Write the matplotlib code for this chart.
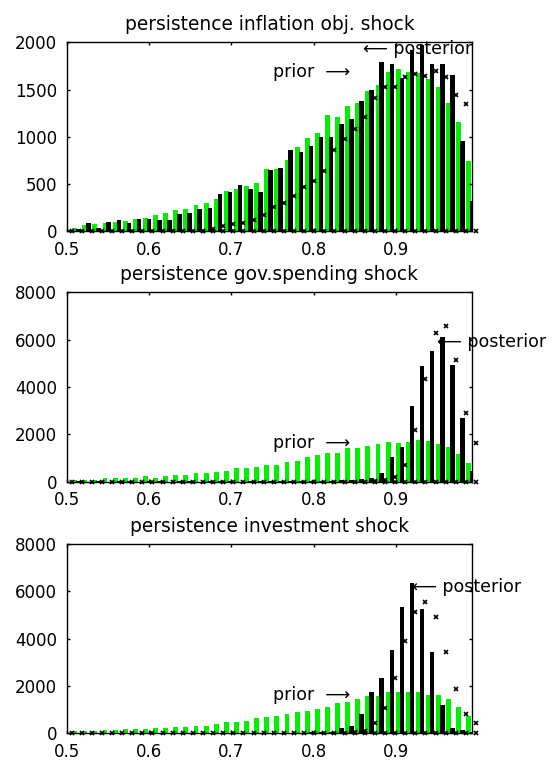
import numpy as np
import matplotlib
matplotlib.use('Agg')
import matplotlib.pyplot as plt

# histogram bin centres (41 bins, same grid for all three panels)
centres = np.linspace(0.4975, 0.4975 + 40 * 0.01227, 41)

titles = ['persistence inflation obj. shock',
          'persistence gov.spending shock',
          'persistence investment shock']

# --- inflation objective shock
prior_infl = [160, 42, 70, 79, 90, 100, 115, 128, 139, 174, 192, 227, 237, 280,
              297, 340, 430, 448, 483, 515, 656, 660, 754, 890, 985, 1040, 1235,
              1210, 1330, 1360, 1480, 1550, 1690, 1720, 1685, 1675, 1615, 1525,
              1360, 1155, 740]
post_infl = [20, 25, 93, 40, 103, 121, 93, 128, 132, 121, 121, 185, 192, 237,
             244, 392, 420, 487, 444, 420, 649, 674, 866, 845, 902, 1000, 1000,
             1134, 1187, 1377, 1493, 1792, 1767, 1620, 1922, 1968, 1767, 1767,
             1651, 955, 322]
cross_infl = [0, 0, 0, 0, 0, 0, 0, 0, 0, 0, 0, 0, 0, 10, 25, 55, 75, 90, 121,
              174, 262, 300, 378, 470, 536, 641, 860, 976, 1081, 1208, 1408,
              1524, 1524, 1630, 1669, 1640, 1697, 1630, 1440, 1345, 0]

# --- gov. spending shock
prior_gov = [150, 72, 72, 72, 170, 170, 170, 170, 240, 170, 240, 282, 282, 352,
             352, 394, 450, 563, 563, 605, 704, 704, 845, 887, 1056, 1126, 1225,
             1225, 1408, 1408, 1521, 1590, 1690, 1640, 1690, 1780, 1700, 1600,
             1480, 1155, 775]
post_gov = [0, 10, 0, 10, 0, 10, 10, 0, 10, 10, 0, 10, 10, 0, 10, 10, 10, 0, 10,
            20, 10, 20, 30, 20, 30, 30, 40, 60, 80, 110, 170, 354, 1056, 1478,
            3198, 4887, 5534, 6099, 4916, 2677, 465]
cross_gov = [0, 0, 0, 0, 0, 0, 0, 0, 0, 0, 0, 0, 0, 0, 0, 0, 0, 0, 0, 0, 0, 0,
             0, 0, 0, 0, 0, 0, 0, 0, 20, 60, 200, 705, 2184, 4325, 6268, 6577,
             5140, 2915, 1647]

# --- investment shock
prior_inv = [180, 85, 85, 85, 127, 127, 155, 155, 155, 226, 212, 268, 240, 311,
             311, 367, 480, 480, 523, 650, 692, 735, 820, 880, 950, 1017, 1117,
             1286, 1328, 1441, 1583, 1583, 1724, 1752, 1752, 1752, 1611, 1611,
             1441, 1117, 735]
post_inv = [0, 10, 10, 0, 10, 0, 10, 10, 0, 10, 0, 10, 10, 0, 10, 0, 10, 0, 10,
            10, 0, 10, 20, 20, 30, 40, 60, 198, 311, 805, 1724, 2318, 3519, 5357,
            6374, 5244, 3448, 1187, 198, 110, 40]
cross_inv = [0, 0, 0, 0, 0, 0, 0, 0, 0, 0, 0, 0, 0, 0, 0, 0, 0, 0, 0, 0, 0, 0,
             0, 0, 0, 0, 0, 0, 30, 100, 437, 1046, 2318, 3900, 5145, 5569, 4932,
             3420, 1865, 805, 410]

ymaxes = [2000, 8000, 8000]
ysteps = [500, 2000, 2000]
# label anchor points (data coords): posterior, prior
post_lab = [(0.860, 1930), (0.949, 5910), (0.919, 6180)]
prior_lab = [(0.7505, 1683), (0.7508, 1622), (0.7508, 1611)]

plt.rcParams['font.family'] = ['DejaVu Sans']
fig = plt.figure(figsize=(5.58, 7.65), dpi=100)
positions = [[0.1194, 0.6974, 0.7265, 0.2473],
             [0.1194, 0.3703, 0.7265, 0.2476],
             [0.1194, 0.0418, 0.7265, 0.2467]]
priors = [prior_infl, prior_gov, prior_inv]
posts = [post_infl, post_gov, post_inv]
crosses = [cross_infl, cross_gov, cross_inv]

for i in range(3):
    ax = fig.add_axes(positions[i])
    ax.bar(centres, priors[i], width=0.0060, color='#00f000', linewidth=0)
    ax.bar(centres + 0.0045, posts[i], width=0.0055, color='k', linewidth=0)
    cr = np.array(crosses[i])
    ax.plot(centres + 0.0085, np.zeros(len(centres)), 'kx', ms=3.5, mew=1.2,
            clip_on=False)
    m = cr > 0
    ax.plot((centres + 0.0085)[m], cr[m], 'kx', ms=3.5, mew=1.2, clip_on=False)

    ax.set_xlim(0.5, 0.992)
    ax.set_ylim(0, ymaxes[i])
    ax.set_xticks([0.5, 0.6, 0.7, 0.8, 0.9])
    ax.set_yticks(np.arange(0, ymaxes[i] + 1, ysteps[i]))
    ax.tick_params(direction='in', top=True, right=True, length=2.5, width=1,
                   labelsize=12, pad=7)
    for s in ax.spines.values():
        s.set_linewidth(1.0)
    ax.set_title(titles[i], fontsize=13.4, pad=9)

    ax.text(post_lab[i][0], post_lab[i][1], '\u27f5 posterior', ha='left',
            va='center', fontsize=12.5, clip_on=False)
    ax.text(prior_lab[i][0], prior_lab[i][1], 'prior  \u27f6', ha='left',
            va='center', fontsize=12.5)

plt.savefig('out.png', dpi=100)
